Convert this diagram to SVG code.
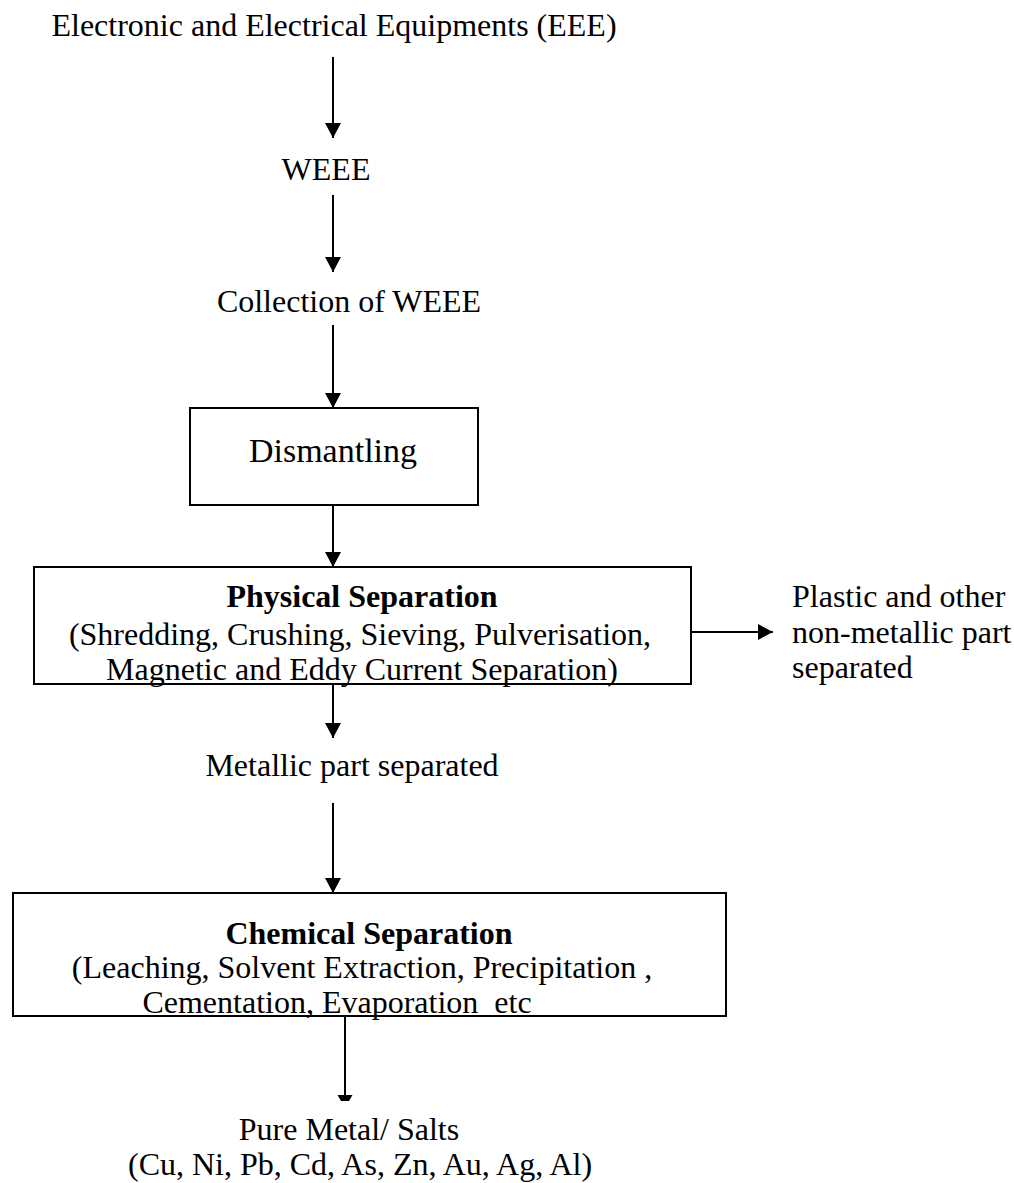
<svg xmlns="http://www.w3.org/2000/svg" width="1014" height="1183" viewBox="0 0 1014 1183">
<style>
text{font-family:"Liberation Serif","Times New Roman",serif;font-size:32px;fill:#000}
.c{text-anchor:middle}
.b{font-weight:bold}
.box{fill:#fff;stroke:#000;stroke-width:2}
.ln{stroke:#000;stroke-width:2;fill:none;marker-end:url(#ah)}
</style>
<defs>
<marker id="ah" markerUnits="userSpaceOnUse" markerWidth="16" markerHeight="16" refX="15" refY="8" orient="auto">
<path d="M0,0 L15,8 L0,16 Z" fill="#000"/>
</marker>
</defs>
<rect width="1014" height="1183" fill="#fff"/>
<g id="connectors">
<line class="ln" x1="333" y1="57" x2="333" y2="138"/>
<line class="ln" x1="333" y1="195" x2="333" y2="272"/>
<line class="ln" x1="333" y1="325" x2="333" y2="408"/>
<line class="ln" x1="333" y1="505" x2="333" y2="567"/>
<line class="ln" x1="692" y1="632" x2="773" y2="632"/>
<line class="ln" x1="333" y1="684" x2="333" y2="738"/>
<line class="ln" x1="333" y1="803" x2="333" y2="893"/>
<line x1="345" y1="1016" x2="345" y2="1096" stroke="#000" stroke-width="2"/>
<polygon points="337.5,1095 352.5,1095 349,1101 341,1101" fill="#000"/>
</g>
<g id="n-eee"><text class="c" x="334" y="36">Electronic and Electrical Equipments (EEE)</text></g>
<g id="n-weee"><text class="c" x="326" y="180">WEEE</text></g>
<g id="n-collection"><text class="c" x="349" y="312">Collection of WEEE</text></g>
<g id="n-dismantling">
<rect class="box" x="190" y="408" width="288" height="97"/>
<text class="c" x="333" y="462" style="font-size:34px">Dismantling</text>
</g>
<g id="n-physical">
<rect class="box" x="34" y="567" width="657" height="117"/>
<text class="c b" x="362" y="607">Physical Separation</text>
<text class="c" x="360" y="645">(Shredding, Crushing, Sieving, Pulverisation,</text>
<text class="c" x="362" y="680">Magnetic and Eddy Current Separation)</text>
</g>
<g id="n-plastic">
<text x="792" y="607">Plastic and other</text>
<text x="792" y="643">non-metallic part</text>
<text x="792" y="678">separated</text>
</g>
<g id="n-metallic"><text class="c" x="352" y="776">Metallic part separated</text></g>
<g id="n-chemical">
<rect class="box" x="13" y="893" width="713" height="123"/>
<text class="c b" x="369" y="944">Chemical Separation</text>
<text class="c" x="362" y="978">(Leaching, Solvent Extraction, Precipitation ,</text>
<text class="c" x="337" y="1013" xml:space="preserve">Cementation, Evaporation  etc</text>
</g>
<g id="n-pure">
<text class="c" x="349" y="1140">Pure Metal/ Salts</text>
<text class="c" x="360" y="1175">(Cu, Ni, Pb, Cd, As, Zn, Au, Ag, Al)</text>
</g>
</svg>
